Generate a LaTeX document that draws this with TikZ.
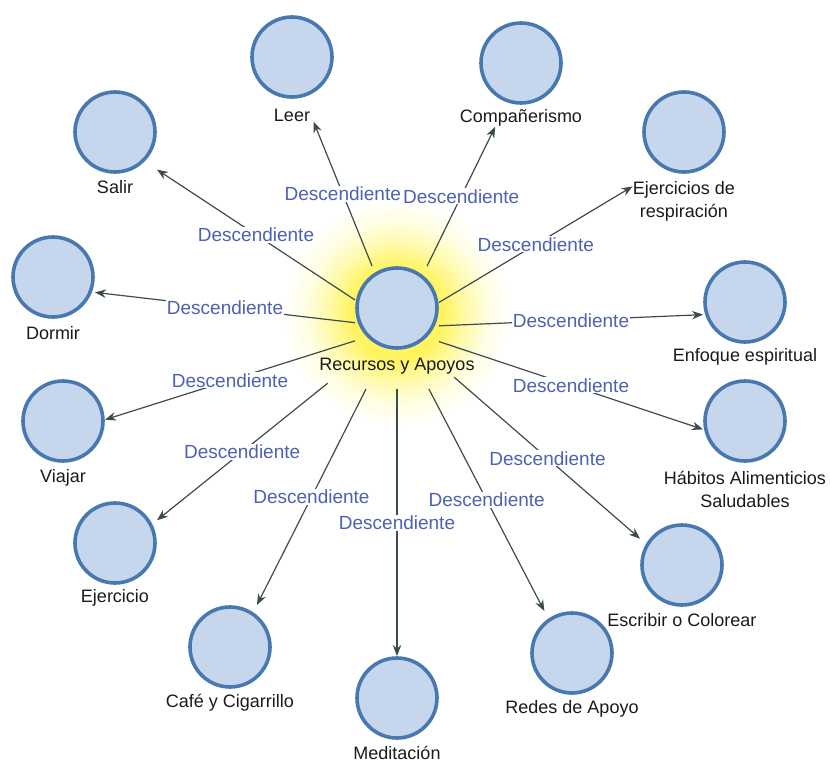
\documentclass[tikz,border=0pt]{standalone}
\usepackage{fontspec}
\setmainfont{Liberation Sans}
\usetikzlibrary{arrows.meta,fit,backgrounds}
\definecolor{bubfill}{RGB}{198,214,236}
\definecolor{bubline}{RGB}{72,120,176}
\definecolor{edgec}{RGB}{60,76,76}
\definecolor{lblc}{RGB}{76,98,178}
\definecolor{txtc}{RGB}{26,26,26}
\definecolor{glowa}{RGB}{255,244,95}
\definecolor{glowb}{RGB}{255,250,170}
\definecolor{glowc}{RGB}{255,254,228}
\pgfdeclareradialshading{glowshade}{\pgfpoint{0bp}{0bp}}{color(0bp)=(glowa); color(10bp)=(glowa); color(15bp)=(glowb); color(20bp)=(glowc); color(25bp)=(white); color(50bp)=(white)}
\tikzset{
  bub/.style={circle, fill=bubfill, draw=bubline, line width=3.6pt, minimum size=80pt, inner sep=0pt},
  txt/.style={inner sep=0pt, text=txtc, font=\fontsize{18}{23}\selectfont, align=center},
  fitbox/.style={rectangle, inner sep=0pt, draw=none},
  edge/.style={draw=edgec, line width=1.2pt, -{Stealth[length=11pt,width=8.5pt]}},
  lbl/.style={fill=white, inner sep=1pt, text=lblc, font=\fontsize{19}{22}\selectfont},
}
\begin{document}
\begin{tikzpicture}[x=1pt,y=-1pt]
\useasboundingbox (0,0) rectangle (830,762);
% centre
\node[bub] (cen) at (397,308) {};
\node[txt] (cenl) at (397,366) {Recursos y Apoyos};
\coordinate (cenlow) at (397,389);
\node[fitbox, fit=(cen)(cenlow)] (cenb) {};
\coordinate (glowc) at (397,313);
\begin{pgfonlayer}{background}
\shade[shading=glowshade] (glowc) circle (115pt);
\end{pgfonlayer}
% outer nodes
\node[bub] (leer) at (292,57) {};
\node[txt] (leerl) at (292,115) {Leer};
\node[fitbox, fit=(leer)(leerl.north)(leerl.south)] (leerb) {};
\node[bub] (comp) at (521,63) {};
\node[txt] (compl) at (521,118) {Compañerismo};
\node[fitbox, fit=(comp)(compl.north)(compl.south)] (compb) {};
\node[bub] (salir) at (115,132) {};
\node[txt] (salirl) at (115,187) {Salir};
\node[fitbox, fit=(salir)(salirl.north)(salirl.south)] (salirb) {};
\node[bub] (resp) at (684,132) {};
\node[txt] (respl) at (684,201) {Ejercicios de\\respiración};
\node[fitbox, fit=(resp)(respl)] (respb) {};
\node[bub] (dormir) at (53,277) {};
\node[txt] (dormirl) at (53,333) {Dormir};
\node[fitbox, fit=(dormir)(dormirl.north)(dormirl.south)] (dormirb) {};
\node[bub] (enf) at (745,302) {};
\node[txt] (enfl) at (745,357) {Enfoque espiritual};
\node[fitbox, fit=(enf)(enfl.north)(enfl.south)] (enfb) {};
\node[bub] (viajar) at (63,421) {};
\node[txt] (viajarl) at (63,478) {Viajar};
\node[fitbox, fit=(viajar)(viajarl.north)(viajarl.south)] (viajarb) {};
\node[bub] (hab) at (745,421) {};
\node[txt] (habl) at (745,489) {Hábitos Alimenticios\\Saludables};
\node[fitbox, fit=(hab)(habl.north)(habl.south)] (habb) {};
\node[bub] (ejer) at (115,543) {};
\node[txt] (ejerl) at (115,598) {Ejercicio};
\node[fitbox, fit=(ejer)(ejerl.north)(ejerl.south)] (ejerb) {};
\node[bub] (escr) at (682,565) {};
\node[txt] (escrl) at (682,620) {Escribir o Colorear};
\node[fitbox, fit=(escr)(escrl.north)(escrl.south)] (escrb) {};
\node[bub] (cafe) at (230,647) {};
\node[txt] (cafel) at (230,703) {Café y Cigarrillo};
\node[fitbox, fit=(cafe)(cafel.north)(cafel.south)] (cafeb) {};
\node[bub] (redes) at (572,653) {};
\node[txt] (redesl) at (572,709) {Redes de Apoyo};
\node[fitbox, fit=(redes)(redesl.north)(redesl.south)] (redesb) {};
\node[bub] (med) at (397,698) {};
\node[txt] (medl) at (397,753) {Meditación};
\node[fitbox, fit=(med)(medl.north)(medl.south)] (medb) {};
% connectors
\draw[edge] (cenb) -- (salirb) node[midway, lbl] {Descendiente};
\draw[edge] (cenb) -- (dormirb) node[midway, lbl] {Descendiente};
\draw[edge] (cenb) -- (viajarb) node[midway, lbl] {Descendiente};
\draw[edge, shorten <=35pt] (cenb) -- (ejerb) node[pos=0.57, lbl] {Descendiente};
\draw[edge] (cenb) -- (cafeb) node[midway, lbl] {Descendiente};
\draw[edge] (cenb) -- (medb) node[midway, lbl] {Descendiente};
\draw[edge] (cenb) -- (redesb) node[midway, lbl] {Descendiente};
\draw[edge, shorten <=20pt] (cenb) -- (escrb) node[pos=0.54, lbl] {Descendiente};
\draw[edge] (cenb) -- (habb) node[midway, lbl] {Descendiente};
\draw[edge] (cenb) -- (enfb) node[midway, lbl] {Descendiente};
\draw[edge] (cenb) -- (respb) node[midway, lbl] {Descendiente};
\draw[edge] (cenb) -- (leerb) node[midway, lbl] {Descendiente};
\draw[edge] (cenb) -- (compb) node[midway, lbl] {Descendiente};
\end{tikzpicture}
\end{document}
